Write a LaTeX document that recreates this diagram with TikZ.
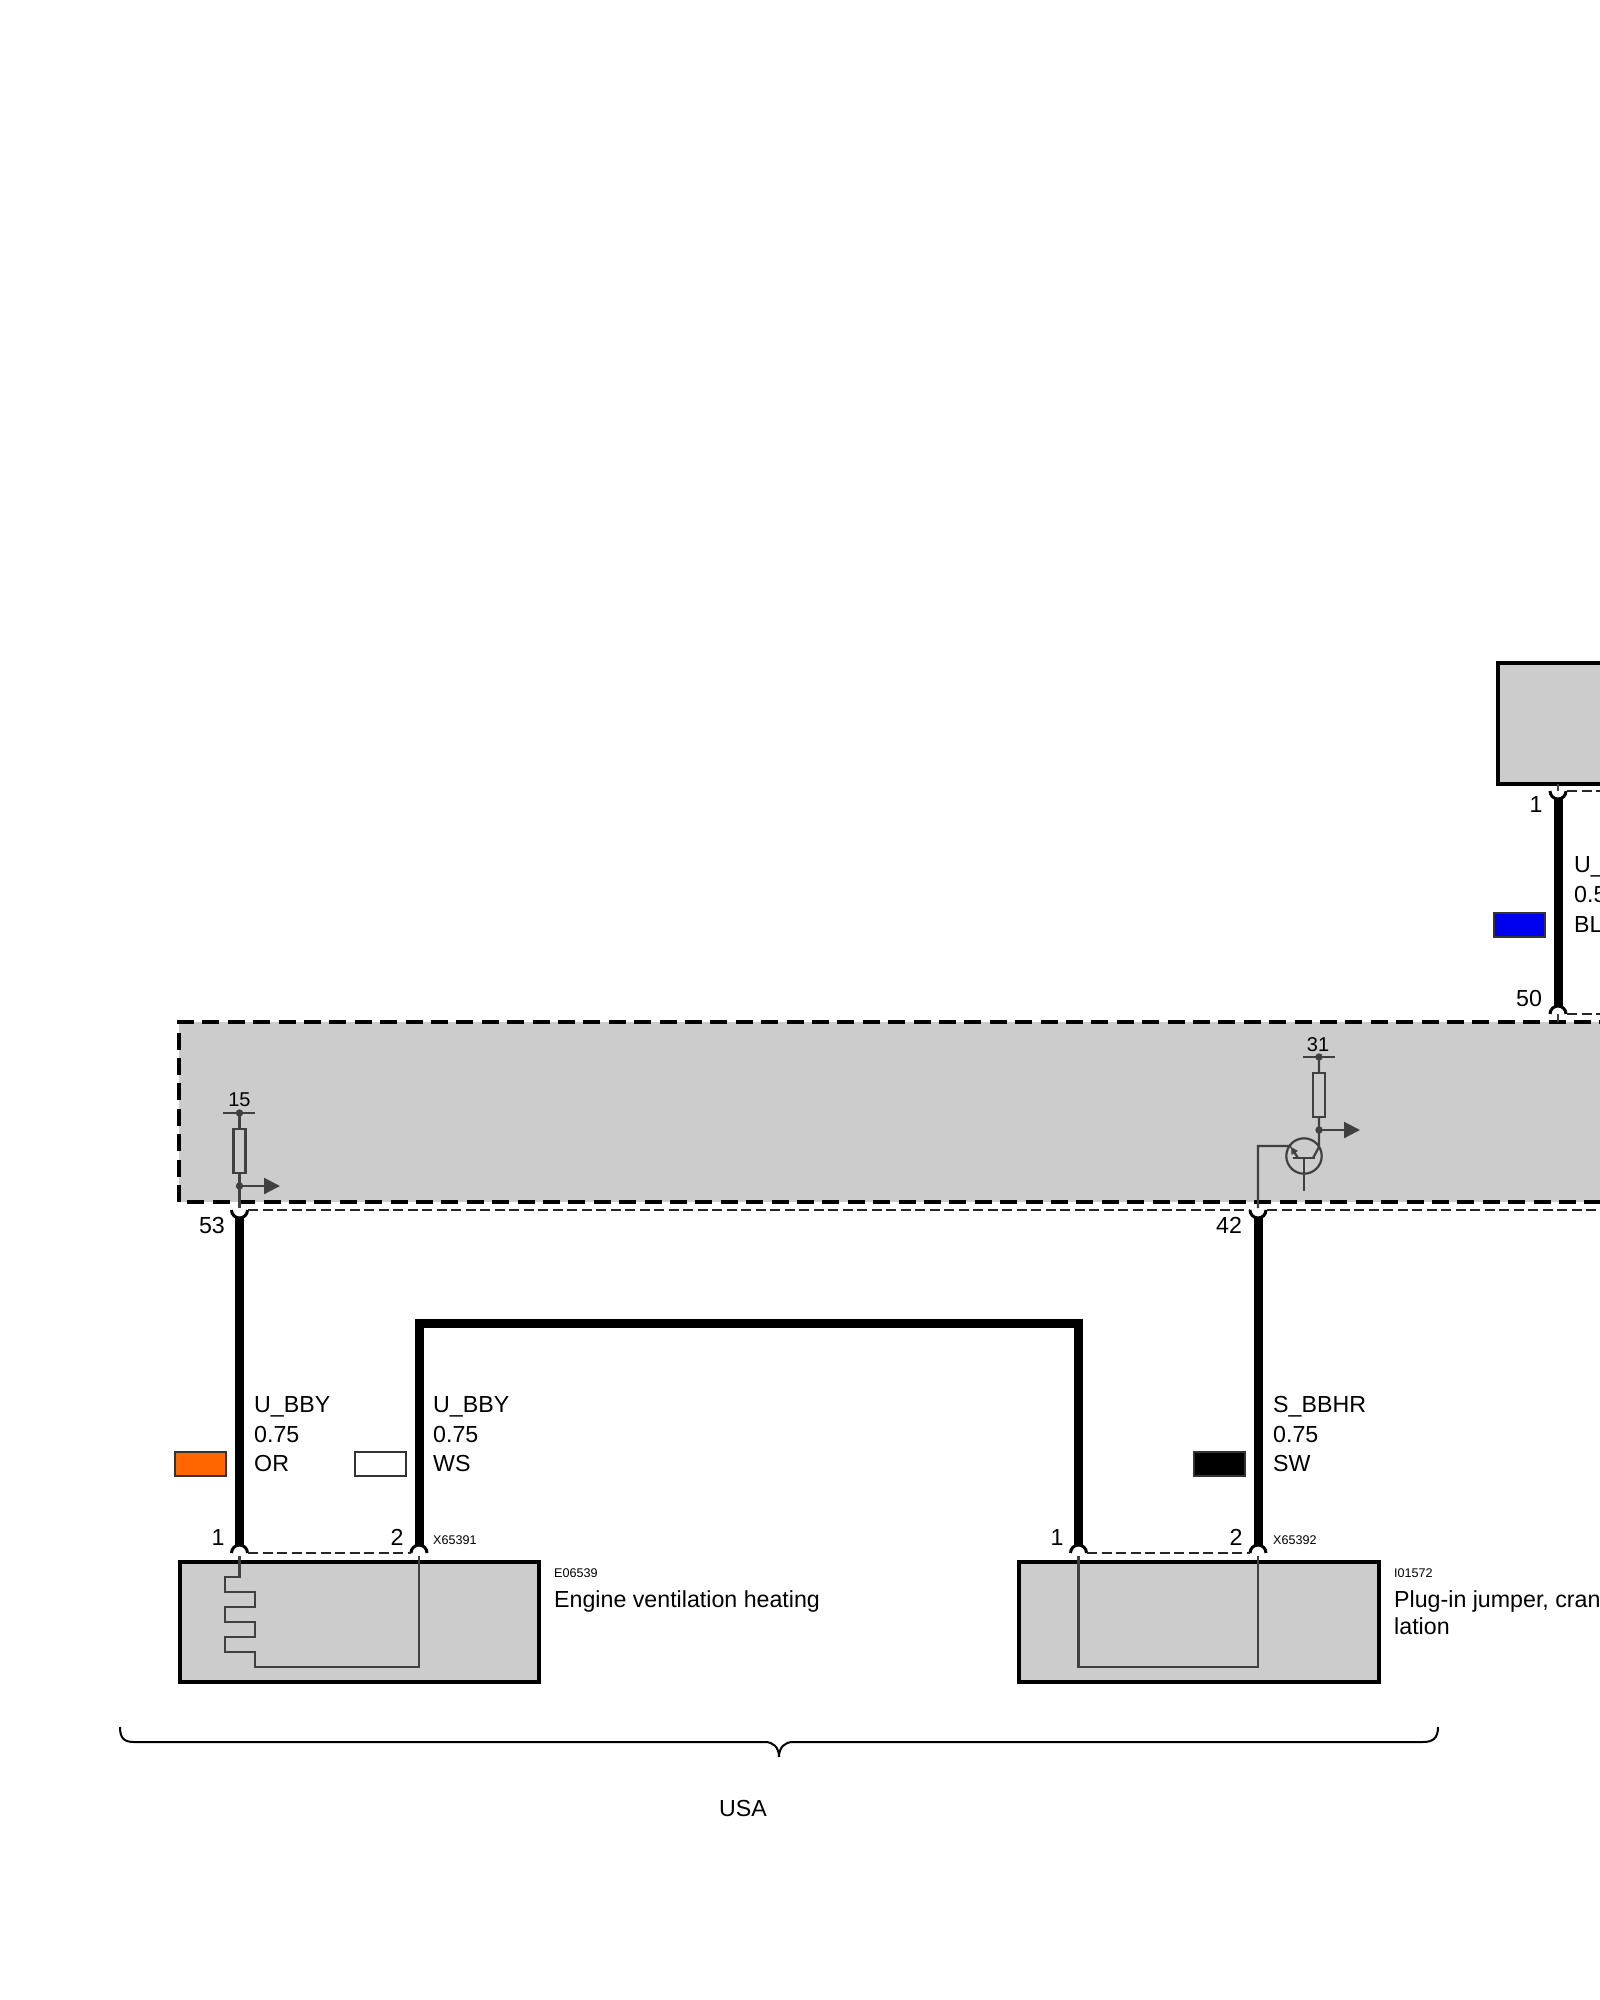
\documentclass[tikz,border=0pt]{standalone}
\usepackage{fontspec}
\setmainfont{Liberation Sans}
\usetikzlibrary{arrows.meta}
\definecolor{unitgray}{HTML}{CCCCCC}
\definecolor{signal}{HTML}{404040}
\tikzset{
  wire/.style={line width=9pt,shorten <=8pt,shorten >=8pt},
  conn/.style={line width=3pt},
  sig/.style={color=signal,line width=2.2pt},
  link/.style={color=black!85,line width=2pt,dash pattern=on 10pt off 4.5pt},
  unit/.style={draw,fill=unitgray,line width=4pt,anchor=north west,inner sep=0pt,outer sep=0pt},
  lab/.style={font=\fontsize{23.2}{30}\selectfont,inner sep=0pt,text height=16.5pt,text depth=0pt},
  tinylab/.style={font=\fontsize{12.6}{14}\selectfont,inner sep=0pt,text height=9pt,text depth=0pt,anchor=west},
  swatch/.style={draw=black!80,line width=1.2pt,anchor=north west,minimum width=51pt,minimum height=24pt,inner sep=0pt,outer sep=0pt},
  outbox/.style={line width=4pt,dash pattern=on 17pt off 8.4pt},
  outarrow/.style={sig,-{Triangle[length=16pt,width=16pt]}}
}
\begin{document}
\begin{tikzpicture}[x=1pt,y=-1pt]
  \useasboundingbox (0,0) rectangle (1600,2000);
  % control unit, runs off the page
  \fill[unitgray] (179,1022) rectangle (1610,1202);
  \draw[outbox] (177,1022) -- (1610,1022);
  \draw[outbox] (179,1202) -- (179,1022);
  \draw[outbox,dash phase=17pt] (179,1202) -- (1610,1202);
  \node[unit,minimum width=142pt,minimum height=121pt] (upper) at (1498,663) {};
  \node[unit,minimum width=359.5pt,minimum height=120pt] (heater) at (179.5,1562) {};
  \node[unit,minimum width=360.5pt,minimum height=120pt] (jumper) at (1018.5,1562) {};
  % pins
  \foreach \name/\x/\y in {p53/239.5/1210,p42/1258/1210,pb/1558/791}
    \coordinate (\name) at (\x,\y);
  \foreach \name/\x/\y in {h1/239.5/1553,h2/419/1553,j1/1078.5/1553,j2/1258/1553,pa/1558/1014}
    \coordinate (\name) at (\x,\y);
  \foreach \name in {p53,p42,pb}
    \draw[conn] (\name) ++(-8,0) arc[start angle=180,end angle=360,radius=8pt];
  \foreach \name in {h1,h2,j1,j2,pa}
    \draw[conn] (\name) ++(-8,0) arc[start angle=180,end angle=0,radius=8pt];
  % pin links
  \draw[link] (248,1210) -- (1249,1210);
  \draw[link] (1267,1210) -- (1610,1210);
  \draw[link] (1567,791) -- (1610,791);
  \draw[link] (1567,1014) -- (1610,1014);
  \draw[link] (248,1553) -- (411,1553);
  \draw[link] (1087,1553) -- (1250,1553);
  % wires
  \coordinate (bendl) at (419,1323);
  \coordinate (bendr) at (1078.5,1323);
  \draw[wire] (p53) -- (h1);
  \draw[wire] (h2) -- (bendl) -- (bendr) -- (j1);
  \draw[wire] (p42) -- (j2);
  \draw[wire] (pb) -- (pa);
  \draw[sig] (1558,784) -- (pb);
  \draw[sig] (pa) -- (1558,1022);
  % left input
  \coordinate (rail15) at (239.5,1113);
  \coordinate (tap15) at (239.5,1186);
  \node[lab,font=\fontsize{20}{24}\selectfont,text height=14.5pt] (t15) at (239.5,1099) {15};
  \draw[sig] (223,1113) -- (255,1113);
  \node[draw=signal,line width=2.2pt,minimum width=12pt,minimum height=44pt,inner sep=0pt] (r15) at (239.5,1151) {};
  \draw[sig] (rail15) -- (r15) -- (tap15) -- (239.5,1208);
  \fill[signal] (rail15) circle (3.7pt) (tap15) circle (3.7pt);
  \draw[outarrow] (tap15) -- (280,1186);
  % right output
  \coordinate (rail31) at (1319,1057);
  \coordinate (tap31) at (1319,1130);
  \node[lab,font=\fontsize{20}{24}\selectfont,text height=14.5pt] (t31) at (1318,1044) {31};
  \draw[sig] (1303,1057) -- (1335,1057);
  \node[draw=signal,line width=2.2pt,minimum width=12pt,minimum height=44pt,inner sep=0pt] (r31) at (1319,1095) {};
  \draw[sig] (rail31) -- (r31) -- (tap31) -- (1319,1147) -- (1313,1158);
  \fill[signal] (rail31) circle (3.7pt) (tap31) circle (3.7pt);
  \draw[outarrow] (tap31) -- (1360,1130);
  \draw[sig] (1304,1156) circle (17.7pt);
  \draw[sig] (1293,1158) -- (1315,1158) (1304,1158) -- (1304,1191);
  \draw[sig,-{Triangle[length=7pt,width=7pt]}] (1298,1158) -- (1291,1147);
  \draw[sig] (1291,1147) -- (1289,1146) -- (1258,1146) -- (1258,1208);
  % heating element and jumper
  \draw[sig] (239.5,1556) -- (239.5,1577) -- (225,1577) -- (225,1592) -- (255,1592) -- (255,1607)
    -- (225,1607) -- (225,1622) -- (255,1622) -- (255,1637) -- (225,1637) -- (225,1652)
    -- (255,1652) -- (255,1667) -- (419,1667) -- (419,1556);
  \draw[sig] (1078.5,1556) -- (1078.5,1667) -- (1258,1667) -- (1258,1556);
  % colour swatches
  \node[swatch,fill={rgb,255:red,255;green,102;blue,0}] (cor) at (175,1452) {};
  \node[swatch,fill=white] (cws) at (355,1452) {};
  \node[swatch,fill=black] (csw) at (1194,1452) {};
  \node[swatch,fill={rgb,255:red,0;green,0;blue,240}] (cbl) at (1494,913) {};
  % wire texts
  \foreach \nm/\x/\a/\b/\c in {wa/254/U\_BBY/0.75/OR,wb/433/U\_BBY/0.75/WS,wc/1273/S\_BBHR/0.75/SW}{
    \node[lab,anchor=west] (\nm1) at (\x,1404) {\a};
    \node[lab,anchor=west] (\nm2) at (\x,1434) {\b};
    \node[lab,anchor=west] (\nm3) at (\x,1463) {\c};
  }
  \node[lab,anchor=west] (wd1) at (1574,864) {U\_};
  \node[lab,anchor=west] (wd2) at (1574,894) {0.5};
  \node[lab,anchor=west] (wd3) at (1574,924) {BL};
  % pin numbers
  \foreach \nm/\x/\y/\label in {n53/212/1225/53,n42/1229/1225/42,na/218/1537/1,nb/397/1537/2,nc/1057/1537/1,nd/1236/1537/2,ne/1536/804/1,nf/1529/998/50}
    \node[lab] (\nm) at (\x,\y) {\label};
  % unit texts
  \node[tinylab] (x1) at (433,1540) {X65391};
  \node[tinylab] (x2) at (1273,1540) {X65392};
  \node[tinylab] (e1) at (554,1573) {E06539};
  \node[tinylab] (i1) at (1394,1573) {I01572};
  \node[lab,anchor=west] (heatname) at (554,1599) {Engine ventilation heating};
  \node[lab,anchor=west] (jumpa) at (1394,1599) {Plug-in jumper, cran};
  \node[lab,anchor=west] (jumpb) at (1394,1626) {lation};
  % brace
  \draw[line width=2pt] (120,1727) .. controls (120,1738) and (124,1742) .. (134,1742) -- (765,1742)
    .. controls (773,1742) and (779,1747) .. (779,1757) .. controls (779,1747) and (785,1742) .. (793,1742)
    -- (1423,1742) .. controls (1433,1742) and (1438,1738) .. (1438,1727);
  \node[lab] (usa) at (743,1808) {USA};
\end{tikzpicture}
\end{document}
